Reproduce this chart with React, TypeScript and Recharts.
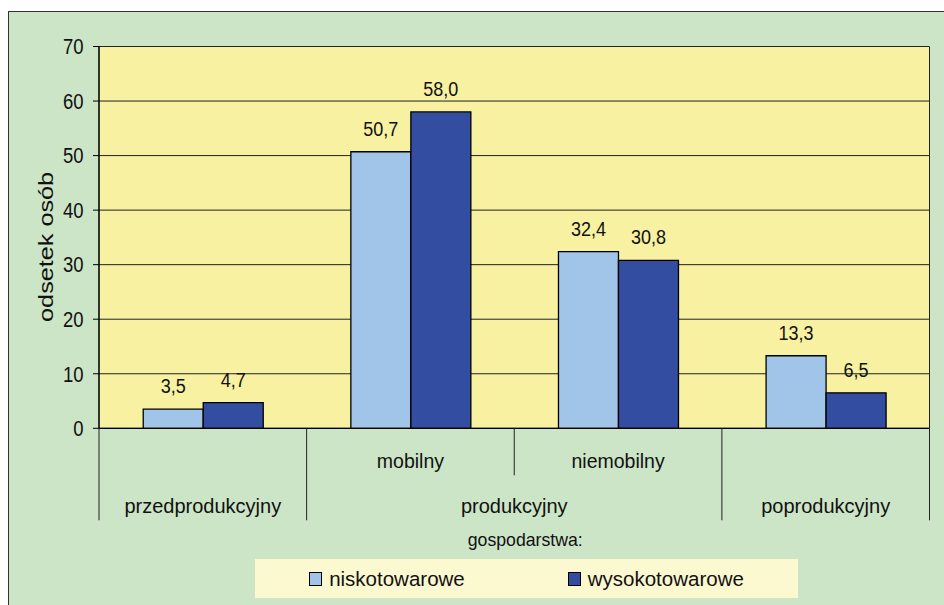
import {
  BarChart,
  Bar,
  XAxis,
  YAxis,
  CartesianGrid,
  LabelList,
  Legend,
} from 'recharts'

const subCategories = ['', 'mobilny', 'niemobilny', '']
const ageGroups = ['przedprodukcyjny', 'produkcyjny', 'produkcyjny', 'poprodukcyjny']
const niskotowarowe = [3.5, 50.7, 32.4, 13.3]
const wysokotowarowe = [4.7, 58.0, 30.8, 6.5]
const yTicks = [0, 10, 20, 30, 40, 50, 60, 70]

const FONT = '"Liberation Sans", Arial, sans-serif'
const GREEN = '#CCE5C6'
const PLOT_FILL = '#F7F1A1'
const LEGEND_FILL = '#FCF8D0'
const LIGHT_BLUE = '#A0C5E9'
const DARK_BLUE = '#334EA0'

const W = 944
const H = 605
const MARGIN = { top: 46.5, right: 14.5, left: 39, bottom: 84.7 }
const Y_AXIS_W = 60
const X_AXIS_H = 92
const PLOT_W = W - MARGIN.left - Y_AXIS_W - MARGIN.right
const BAND = PLOT_W / subCategories.length
// numbers in the original are drawn a little taller than wide
const DIGIT_STRETCH = 1.17

const data = subCategories.map((sub, i) => ({
  key: `${i}`,
  sub,
  group: ageGroups[i],
  nisko: niskotowarowe[i],
  wysoko: wysokotowarowe[i],
}))

const fmt = (v: number) => v.toFixed(1).replace('.', ',')

function NumberText({ x, y, anchor, size, children }: any) {
  return (
    <text
      transform={`translate(${x},${y}) scale(1,${DIGIT_STRETCH})`}
      x={0}
      y={0}
      textAnchor={anchor}
      fontSize={size}
      fill="#111"
      fontFamily={FONT}
    >
      {children}
    </text>
  )
}

function YTick({ x, y, payload }: any) {
  // baseline sits so the digits are centred on the tick
  return (
    <NumberText x={x} y={y + 0.358 * 18.5 * DIGIT_STRETCH} anchor="end" size={18.5}>
      {payload.value}
    </NumberText>
  )
}

function BarValue({ x, y, width, value }: any) {
  return (
    <NumberText x={x + width / 2} y={y - 16} anchor="middle" size={18}>
      {fmt(Number(value))}
    </NumberText>
  )
}

// two-level category axis: sub label + age group, with Excel style separators
function CategoryTick(props: any) {
  const { x, y, index } = props
  const left = x - BAND / 2
  const isGroupStart = index === 0 || ageGroups[index] !== ageGroups[index - 1]
  let span = 1
  while (index + span < ageGroups.length && ageGroups[index + span] === ageGroups[index]) span++
  const isLast = index === subCategories.length - 1
  return (
    <g>
      <line
        x1={left}
        x2={left}
        y1={y}
        y2={y + (isGroupStart ? 92 : 47)}
        stroke="#222"
        strokeWidth={1}
      />
      {isLast && (
        <line x1={left + BAND} x2={left + BAND} y1={y} y2={y + 92} stroke="#222" strokeWidth={1} />
      )}
      {subCategories[index] && (
        <text x={x} y={y + 40} textAnchor="middle" fontSize={19.5} fill="#111" fontFamily={FONT}>
          {subCategories[index]}
        </text>
      )}
      {isGroupStart && (
        <text
          x={left + (span * BAND) / 2}
          y={y + 85}
          textAnchor="middle"
          fontSize={20}
          fill="#111"
          fontFamily={FONT}
        >
          {ageGroups[index]}
        </text>
      )}
    </g>
  )
}

function LegendBox({ payload }: any) {
  return (
    <div
      style={{
        width: 543,
        height: 39,
        background: LEGEND_FILL,
        display: 'flex',
        alignItems: 'center',
        justifyContent: 'center',
        gap: 103,
        fontFamily: FONT,
        fontSize: 20.5,
        color: '#111',
      }}
    >
      {(payload ?? []).map((p: any) => (
        <div key={p.value} style={{ display: 'flex', alignItems: 'center', gap: 7 }}>
          <span
            style={{
              display: 'inline-block',
              width: 11,
              height: 12,
              background: p.color,
              border: '1.5px solid #000',
            }}
          />
          <span>{p.value}</span>
        </div>
      ))}
    </div>
  )
}

export default function App() {
  return (
    <div
      style={{
        position: 'fixed',
        left: 0,
        top: 0,
        width: W,
        height: H,
        overflow: 'hidden',
        background: '#fff',
      }}
    >
      <style>{'html, body { overflow: hidden; }'}</style>
      <div
        style={{
          position: 'absolute',
          left: 8,
          top: 11,
          width: 2000,
          height: 2000,
          background: GREEN,
          borderTop: '1.5px solid #333',
          borderLeft: '1.5px solid #333',
        }}
      />
      <div style={{ position: 'absolute', left: 0, top: 0 }}>
        <BarChart
          width={W}
          height={H}
          data={data}
          margin={MARGIN}
          barCategoryGap="21.3%"
          barGap={0}
        >
          <CartesianGrid
            fill={PLOT_FILL}
            fillOpacity={1}
            stroke="#222"
            strokeWidth={1}
            verticalCoordinatesGenerator={({ offset }: any) => [
              offset.left,
              offset.left + offset.width,
            ]}
          />
          <XAxis
            dataKey="key"
            height={X_AXIS_H}
            tickSize={0}
            tickMargin={0}
            tickLine={false}
            axisLine={{ stroke: '#000', strokeWidth: 1.2 }}
            tick={<CategoryTick />}
            interval={0}
            label={{
              content: ({ viewBox }: any) => (
                <text
                  x={viewBox.x + viewBox.width / 2 + 11}
                  y={viewBox.y + 117.7}
                  textAnchor="middle"
                  fontSize={17.7}
                  fill="#111"
                  fontFamily={FONT}
                >
                  gospodarstwa:
                </text>
              ),
            }}
          />
          <YAxis
            width={Y_AXIS_W}
            domain={[0, 70]}
            ticks={yTicks}
            interval={0}
            tickSize={6}
            tickMargin={9.5}
            tick={<YTick />}
            tickLine={{ stroke: '#000' }}
            axisLine={{ stroke: '#000', strokeWidth: 1.2 }}
            label={{
              content: ({ viewBox }: any) => {
                const cx = viewBox.x + 14
                const cy = viewBox.y + viewBox.height / 2 + 9.5
                return (
                  <text
                    x={cx}
                    y={cy}
                    transform={`rotate(-90 ${cx} ${cy})`}
                    textAnchor="middle"
                    fontSize={19.5}
                    fill="#111"
                    fontFamily={FONT}
                    textLength={150}
                    lengthAdjust="spacingAndGlyphs"
                  >
                    odsetek osób
                  </text>
                )
              },
            }}
          />
          <Legend
            layout="horizontal"
            verticalAlign="middle"
            align="center"
            content={<LegendBox />}
            wrapperStyle={{ left: 255, top: 559, width: 543, height: 39 }}
          />
          <Bar
            dataKey="nisko"
            name="niskotowarowe"
            fill={LIGHT_BLUE}
            stroke="#000"
            strokeWidth={1.3}
            isAnimationActive={false}
          >
            <LabelList dataKey="nisko" position="top" content={<BarValue />} />
          </Bar>
          <Bar
            dataKey="wysoko"
            name="wysokotowarowe"
            fill={DARK_BLUE}
            stroke="#000"
            strokeWidth={1.3}
            isAnimationActive={false}
          >
            <LabelList dataKey="wysoko" position="top" content={<BarValue />} />
          </Bar>
        </BarChart>
      </div>
    </div>
  )
}
